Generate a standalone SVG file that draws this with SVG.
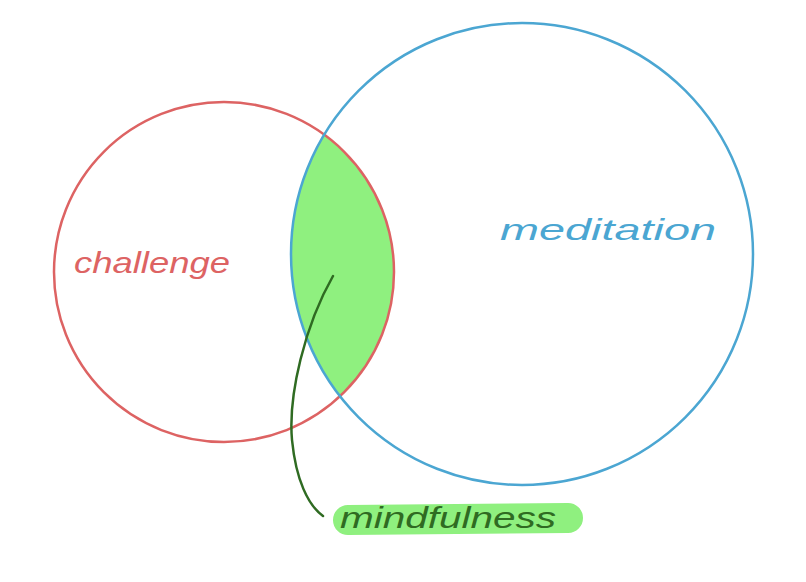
<svg xmlns="http://www.w3.org/2000/svg" width="806" height="582" viewBox="0 0 806 582">
<style>
.circ{fill:none;stroke-width:2.5}
.lbl{font-family:"Liberation Sans","DejaVu Sans",sans-serif;font-style:italic;font-size:30px}
</style>
<defs>
<clipPath id="redClip"><circle cx="224" cy="272" r="170"/></clipPath>
</defs>
<rect width="806" height="582" fill="#ffffff"/>
<g id="lens">
<circle cx="522" cy="254" r="231" fill="#8ff07f" clip-path="url(#redClip)"/>
</g>
<g id="challenge">
<circle class="circ" cx="224" cy="272" r="170" stroke="#dd6363"/>
<text class="lbl" x="74" y="273" fill="#dd6363" textLength="156" lengthAdjust="spacingAndGlyphs">challenge</text>
</g>
<g id="meditation">
<circle class="circ" cx="522" cy="254" r="231" stroke="#4ba6d2"/>
<text class="lbl" x="500" y="240" fill="#4ba6d2" textLength="216" lengthAdjust="spacingAndGlyphs">meditation</text>
</g>
<g id="connectors">
<path d="M333,276 C305,325 288,395 292,440 C296,480 308,505 323,516" fill="none" stroke="#2f6b22" stroke-width="2.5" stroke-linecap="round"/>
</g>
<g id="mindfulness">
<path d="M348,520 L568,518" stroke="#8ff07f" stroke-width="30" stroke-linecap="round" fill="none"/>
<text class="lbl" x="340" y="528" fill="#2f6b22" textLength="216" lengthAdjust="spacingAndGlyphs">mindfulness</text>
</g>
</svg>
